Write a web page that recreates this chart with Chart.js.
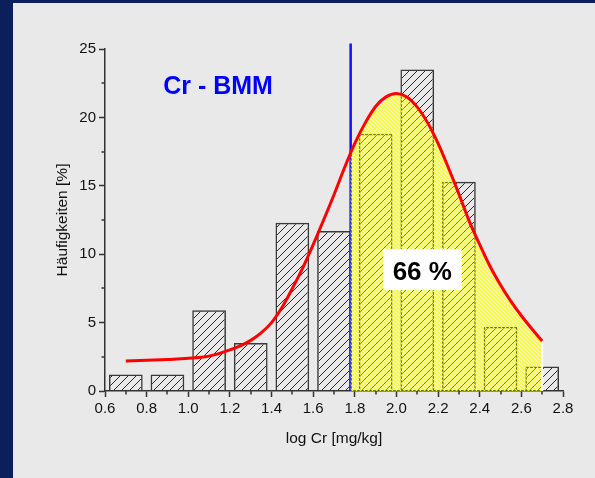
<!DOCTYPE html>
<html>
<head>
<meta charset="utf-8">
<script src="https://cdn.jsdelivr.net/npm/chart.js@4/dist/chart.umd.min.js"></script>
<style>
  html, body { margin: 0; padding: 0; width: 595px; height: 478px; overflow: hidden; background: #0b1f5b; }
  #panel { position: absolute; left: 13px; top: 3px; width: 582px; height: 475px; background: #e9e9e9; }
  canvas { display: block; }
</style>
</head>
<body>
<div id="panel"><canvas id="c" width="582" height="475"></canvas></div>
<script>
// Histogram of log Cr (bin width 0.2) with fitted distribution curve
const binCenters  = [0.7, 0.9, 1.1, 1.3, 1.5, 1.7, 1.9, 2.1, 2.3, 2.5, 2.7];
const frequencies = [1.2, 1.2, 5.9, 3.5, 12.3, 11.7, 18.8, 23.5, 15.3, 4.7, 1.8];

// Fitted curve, sampled along log Cr
const fitX = [0.70, 0.80, 0.90, 1.00, 1.05, 1.10, 1.15, 1.20, 1.25, 1.30, 1.35, 1.40, 1.45,
              1.50, 1.55, 1.60, 1.65, 1.70, 1.75, 1.80, 1.85, 1.90, 1.95, 2.00, 2.05, 2.10,
              2.15, 2.20, 2.25, 2.30, 2.35, 2.40, 2.45, 2.50, 2.55, 2.60, 2.65, 2.70];
const fitY = [2.20, 2.25, 2.30, 2.40, 2.45, 2.55, 2.75, 3.00, 3.30, 3.70, 4.25, 5.00, 6.10,
              7.50, 9.00, 10.70, 12.50, 14.35, 16.30, 18.10, 19.60, 20.80, 21.50, 21.75, 21.50, 20.75,
              19.60, 18.10, 16.30, 14.40, 12.40, 10.70, 9.10, 7.75, 6.55, 5.50, 4.55, 3.65];

// Threshold (vertical marker) and share of values above it
const thresholdX = 1.78;
const shadeEndX  = 2.70;
const shareText  = '66 %';
const titleText  = 'Cr - BMM';

const xTickValues = [0.6, 0.8, 1.0, 1.2, 1.4, 1.6, 1.8, 2.0, 2.2, 2.4, 2.6, 2.8];
const xMinorTicks = [0.7, 0.9, 1.1, 1.3, 1.5, 1.7, 1.9, 2.1, 2.3, 2.5, 2.7];
const yTickValues = [0, 5, 10, 15, 20, 25];
const yMinorTicks = [2.5, 7.5, 12.5, 17.5, 22.5];

const FONT = "'Liberation Sans', Arial, Helvetica, sans-serif";

function hatch(color, size, width, dir) {
  const c = document.createElement('canvas');
  c.width = c.height = size;
  const g = c.getContext('2d');
  g.strokeStyle = color;
  g.lineWidth = width;
  g.beginPath();
  for (let k = -1; k <= 1; k++) {
    if (dir === '/') { g.moveTo(k * size, size); g.lineTo(k * size + size, 0); }
    else { g.moveTo(k * size, 0); g.lineTo(k * size + size, size); }
  }
  g.stroke();
  return g.createPattern(c, 'repeat');
}
const ctx0 = document.getElementById('c').getContext('2d');
const barHatch = hatch('#2b2b2b', 8, 1, '/');
const yellowHatch = hatch('#ffff00', 4, 1.1, '\\');

const decorations = {
  id: 'decorations',
  beforeDatasetDraw(chart, args) {
    if (chart.data.datasets[args.index].label !== 'fit') return;
    const ctx = chart.ctx, xs = chart.scales.x, ys = chart.scales.y;
    const line = args.meta.dataset;
    line.updateControlPoints(chart.chartArea, 'x');
    const x0 = xs.getPixelForValue(thresholdX), x1 = xs.getPixelForValue(shadeEndX);
    const yb = ys.getPixelForValue(0);
    const pts = args.meta.data;
    ctx.save();
    ctx.beginPath();
    ctx.rect(x0, 0, x1 - x0, yb);
    ctx.clip();
    ctx.beginPath();
    line.path(ctx);
    ctx.lineTo(pts[pts.length - 1].x, yb);
    ctx.lineTo(pts[0].x, yb);
    ctx.closePath();
    ctx.fillStyle = 'rgba(255, 255, 200, 0.25)';
    ctx.fill();
    ctx.fillStyle = yellowHatch;
    ctx.fill();
    ctx.restore();
    // white edge closing the shaded area
    const yEnd = ys.getPixelForValue(fitY[fitY.length - 1]);
    ctx.save();
    ctx.strokeStyle = '#ffffff';
    ctx.lineWidth = 2;
    ctx.beginPath();
    ctx.moveTo(x1, yEnd);
    ctx.lineTo(x1, yb);
    ctx.stroke();
    ctx.restore();
  },
  afterDraw(chart) {
    const ctx = chart.ctx, xs = chart.scales.x, ys = chart.scales.y;
    const area = chart.chartArea;
    ctx.save();
    // minor ticks
    ctx.strokeStyle = '#333333';
    ctx.lineWidth = 1.5;
    ctx.beginPath();
    yMinorTicks.forEach(v => {
      const y = Math.round(ys.getPixelForValue(v));
      ctx.moveTo(area.left - 3.5, y); ctx.lineTo(area.left, y);
    });
    xMinorTicks.forEach(v => {
      const x = Math.round(xs.getPixelForValue(v));
      ctx.moveTo(x, area.bottom); ctx.lineTo(x, area.bottom + 3.5);
    });
    ctx.stroke();

    // series title
    ctx.fillStyle = '#0000ff';
    ctx.font = 'bold 25px ' + FONT;
    ctx.textAlign = 'center';
    ctx.textBaseline = 'alphabetic';
    ctx.fillText(titleText, xs.getPixelForValue(1.143), ys.getPixelForValue(21.7));

    // share label box
    const bx0 = xs.getPixelForValue(1.937), bx1 = xs.getPixelForValue(2.313);
    const by0 = ys.getPixelForValue(10.36), by1 = ys.getPixelForValue(7.38);
    ctx.fillStyle = '#ffffff';
    ctx.fillRect(bx0, by0, bx1 - bx0, by1 - by0);
    ctx.fillStyle = '#000000';
    ctx.font = 'bold 26px ' + FONT;
    ctx.fillText(shareText, xs.getPixelForValue(2.124), ys.getPixelForValue(8.11));
    ctx.restore();
  }
};

new Chart(ctx0, {
  type: 'bar',
  data: {
    datasets: [
      {
        label: 'fit',
        type: 'line',
        data: fitX.map((x, i) => ({ x, y: fitY[i] })),
        borderColor: '#ff0000',
        borderWidth: 3,
        pointRadius: 0,
        cubicInterpolationMode: 'monotone',
        fill: false,
        order: 0
      },
      {
        label: 'threshold',
        type: 'line',
        data: [{ x: thresholdX, y: 0 }, { x: thresholdX, y: 25.4 }],
        borderColor: '#1010ff',
        borderWidth: 2.5,
        pointRadius: 0,
        clip: false,
        order: 1
      },
      {
        label: 'frequency',
        data: binCenters.map((x, i) => ({ x, y: frequencies[i] })),
        backgroundColor: barHatch,
        borderColor: '#3a3a3a',
        borderWidth: 1.5,
        barPercentage: 0.81,
        categoryPercentage: 1.0,
        order: 2
      }
    ]
  },
  options: {
    responsive: false,
    animation: false,
    events: [],
    layout: { padding: { left: 0, top: 46, right: 32, bottom: 0 } },
    plugins: { legend: { display: false }, tooltip: { enabled: false } },
    scales: {
      x: {
        type: 'linear',
        min: 0.6, max: 2.8,
        offset: false,
        afterBuildTicks: s => { s.ticks = xTickValues.map(v => ({ value: v })); },
        afterFit: s => { s.height = 87; },
        grid: { display: true, drawOnChartArea: false, drawTicks: true, tickLength: 6,
                tickColor: '#333333', tickWidth: 1.5, offset: false },
        border: { display: true, color: '#333333', width: 1.5 },
        ticks: { color: '#111111', font: { family: FONT, size: 15 }, padding: 3,
                 maxRotation: 0, autoSkip: false,
                 callback: v => Number(v).toFixed(1) },
        title: { display: true, text: 'log Cr [mg/kg]', color: '#111111',
                 font: { family: FONT, size: 15.5 }, padding: { top: 0, bottom: 30 } }
      },
      y: {
        type: 'linear',
        min: 0, max: 25,
        afterBuildTicks: s => { s.ticks = yTickValues.map(v => ({ value: v })); },
        afterFit: s => { s.width = 92; },
        grid: { display: true, drawOnChartArea: false, drawTicks: true, tickLength: 6,
                tickColor: '#333333', tickWidth: 1.5 },
        border: { display: true, color: '#333333', width: 1.5 },
        ticks: { color: '#111111', font: { family: FONT, size: 15 }, padding: 3 },
        title: { display: true, text: 'Häufigkeiten [%]', color: '#111111',
                 font: { family: FONT, size: 15.5 }, padding: { top: 40, bottom: 0 } }
      }
    }
  },
  plugins: [decorations]
});
</script>
</body>
</html>
